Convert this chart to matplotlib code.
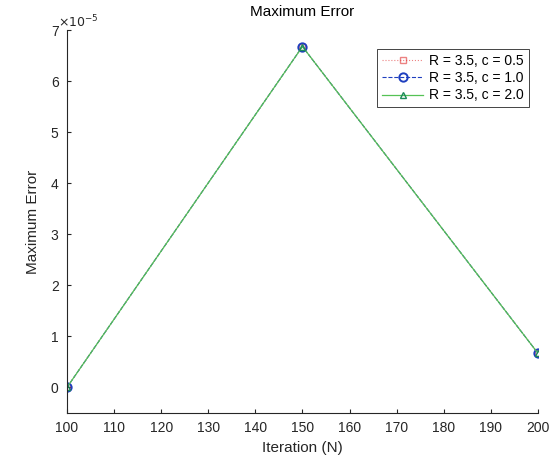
import matplotlib.pyplot as plt
import numpy as np

# iteration counts and maximum error for each c value
iterations = [100, 150, 200]
err_c05 = [0.0, 6.68e-5, 0.67e-5]
err_c10 = [0.0, 6.68e-5, 0.67e-5]
err_c20 = [0.0, 6.68e-5, 0.67e-5]

plt.rcParams['font.family'] = ['Liberation Sans', 'DejaVu Sans']
plt.rcParams['font.size'] = 10

fig = plt.figure(figsize=(5.58, 4.65), dpi=100)
ax = fig.add_axes([0.12, 0.112, 0.844, 0.823])

ax.plot(iterations, err_c05, color='#e03030', linestyle=':', linewidth=0.8,
        marker='s', markersize=5, markerfacecolor='none', alpha=0.6,
        label='R = 3.5, c = 0.5')
ax.plot(iterations, err_c10, color='#1f3fbf', linestyle='--', linewidth=0.8,
        marker='o', markersize=6, markeredgewidth=1.4, markerfacecolor='none',
        label='R = 3.5, c = 1.0')
ax.plot(iterations, err_c20, color='#55c255', linestyle='-', linewidth=0.9,
        marker='^', markersize=4, markerfacecolor='none', markeredgecolor='#1c8a5a',
        label='R = 3.5, c = 2.0')

ax.set_xlim(100, 200)
ax.set_ylim(-0.5e-5, 7e-5)
ax.set_xticks(np.arange(100, 201, 10))
ax.set_yticks(np.arange(0, 8) * 1e-5)
ax.set_yticklabels([str(i) for i in range(8)])
ax.text(-0.02, 1.0, r'$\times10^{-5}$', transform=ax.transAxes, fontsize=9,
        color='#262626', va='bottom', ha='left')

ax.set_xlabel('Iteration (N)', fontsize=11, color='#262626')
ax.set_ylabel('Maximum Error', fontsize=11, color='#262626', labelpad=8)
ax.set_title('Maximum Error', fontsize=11, color='#000000', pad=10)

for side in ['top', 'right']:
    ax.spines[side].set_visible(False)
for side in ['left', 'bottom']:
    ax.spines[side].set_color('#262626')
ax.tick_params(direction='in', length=3, colors='#262626', labelsize=10, pad=6)

leg = ax.legend(loc='upper right', bbox_to_anchor=(0.995, 0.97), fancybox=False,
                edgecolor='#262626', framealpha=1, fontsize=10,
                handlelength=3.0, borderpad=0.35, labelspacing=0.25,
                handletextpad=0.4)
leg.get_frame().set_linewidth(0.6)

fig.savefig('out.png', dpi=100)
